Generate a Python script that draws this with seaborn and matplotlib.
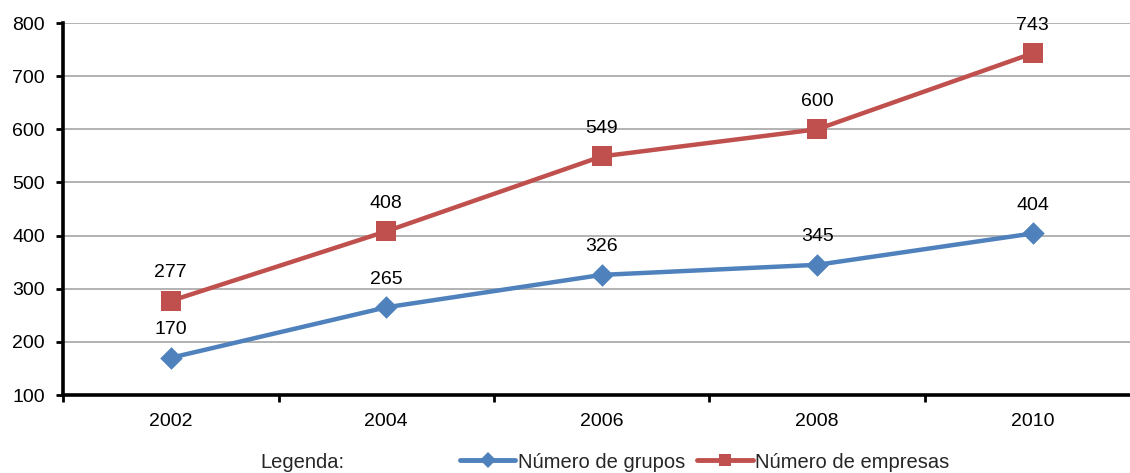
import matplotlib
matplotlib.use("Agg")
import matplotlib.pyplot as plt
from matplotlib.lines import Line2D
import seaborn as sns
import pandas as pd

years = ["2002", "2004", "2006", "2008", "2010"]
grupos = [170, 265, 326, 345, 404]
empresas = [277, 408, 549, 600, 743]
series_names = ["Número de grupos", "Número de empresas"]

sns.set_theme(style="white")
plt.rcParams["font.family"] = ["Liberation Sans", "DejaVu Sans"]

df = pd.DataFrame({
    "pos": list(range(len(years))) * 2,
    "valor": grupos + empresas,
    "serie": [series_names[0]] * len(years) + [series_names[1]] * len(years),
})

fig = plt.figure(figsize=(11.3, 4.73), dpi=100)
ax = fig.add_axes([63 / 1130, 78 / 473, (1140.5 - 63) / 1130, (395 - 23) / 473])

palette = {series_names[0]: "#4F81BD", series_names[1]: "#C0504D"}
marker_map = {series_names[0]: "D", series_names[1]: "s"}
sizes = {series_names[0]: 11.5, series_names[1]: 14}

for name in series_names:
    sub = df[df["serie"] == name]
    sns.lineplot(data=sub, x="pos", y="valor", ax=ax, color=palette[name],
                 linewidth=3.2, legend=False, zorder=3)
    sns.scatterplot(data=sub, x="pos", y="valor", ax=ax, color=palette[name],
                    marker=marker_map[name], s=sizes[name] ** 2, linewidth=0,
                    legend=False, zorder=4)
    for x, v in zip(sub["pos"], sub["valor"]):
        ax.annotate(f"{v}", (x, v), xytext=(0, 17), textcoords="offset points",
                    ha="center", va="baseline", fontsize=14, color="#000000")

ax.set_xlim(-0.5, 4.5)
ax.set_ylim(100, 800)
ax.set_yticks(range(100, 801, 100))
ax.set_xticks(range(len(years)))
ax.set_xticklabels(years)
ax.set_xticks([i + 0.5 for i in range(-1, len(years))], minor=True)
ax.set_xlabel("")
ax.set_ylabel("")

ax.grid(axis="y", color="#A6A6A6", linewidth=1.2)
ax.grid(axis="x", visible=False)
ax.set_axisbelow(True)
for side in ["top", "right"]:
    ax.spines[side].set_visible(False)
for side in ["left", "bottom"]:
    ax.spines[side].set_color("black")
    ax.spines[side].set_linewidth(2.6)

ax.tick_params(axis="y", which="major", direction="out", length=5, width=2,
               color="black", labelsize=14, labelcolor="black", pad=8, left=True)
ax.tick_params(axis="x", which="major", length=0, labelsize=14, labelcolor="black", pad=13)
ax.tick_params(axis="x", which="minor", direction="out", length=5, width=2,
               color="black", bottom=True)

handles = [Line2D([], [], color=palette[n], marker=marker_map[n], markersize=8,
                  markeredgewidth=0, linewidth=3.5) for n in series_names]
fig.text(260 / 1130, 1 - 462 / 473, "Legenda:", fontsize=14.5, va="center", ha="left")
fig.legend(handles, series_names, loc="center left", bbox_to_anchor=(460 / 1130, 1 - 462 / 473),
           ncol=2, frameon=False, fontsize=14.5, handlelength=2.75, handletextpad=0.12,
           columnspacing=0.6, borderaxespad=0, borderpad=0)

fig.savefig("out.png", dpi=100)
